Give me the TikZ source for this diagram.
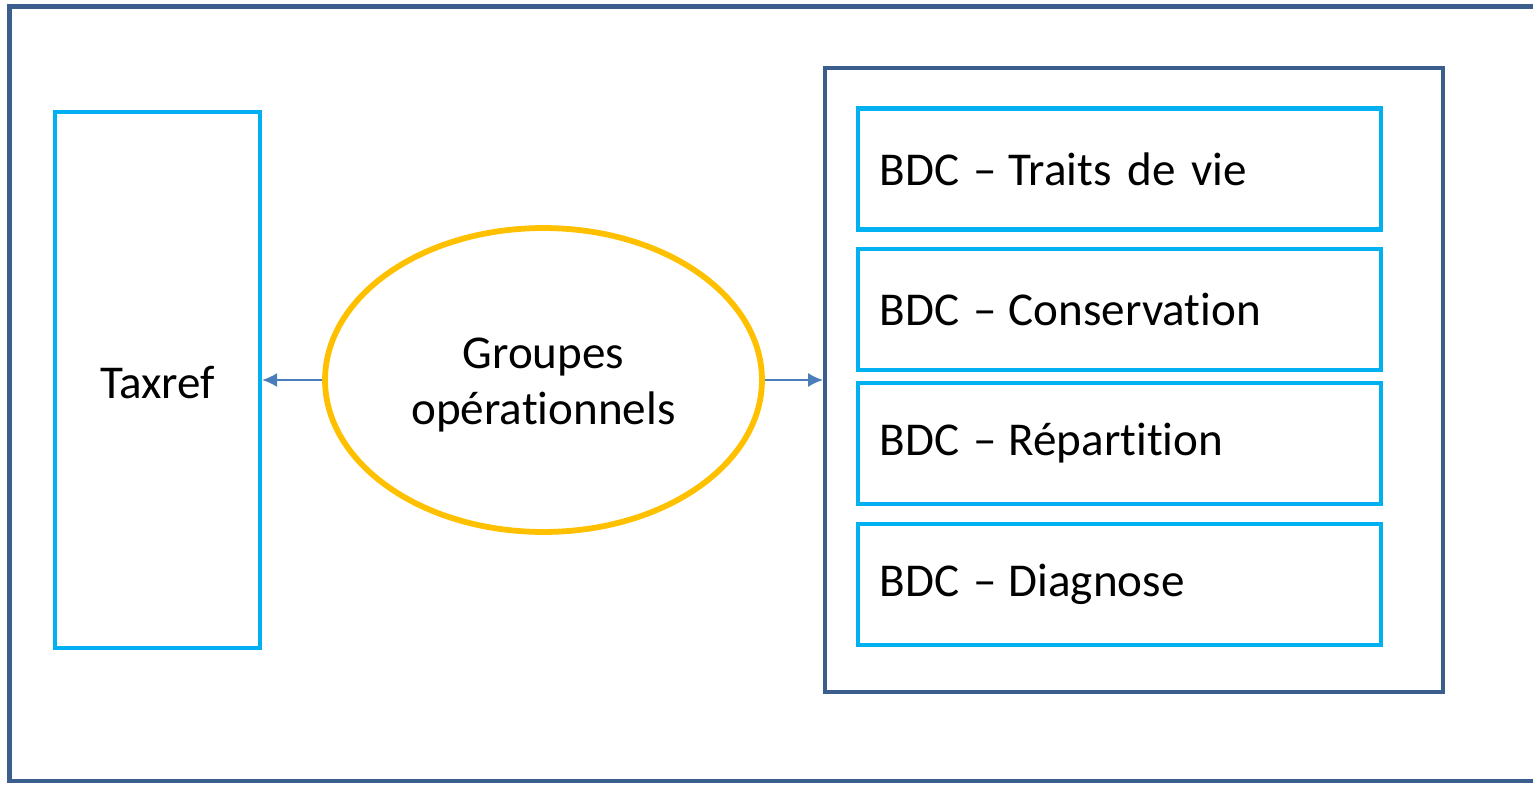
\documentclass[tikz,border=0pt]{standalone}
\usepackage{fontspec}
\setmainfont[Ligatures=NoCommon,RawFeature={-liga;-clig;-calt;-dlig}]{Carlito}
\usepackage{xcolor}
\usepackage{tikz}
\usetikzlibrary{arrows.meta,shapes.geometric,positioning}
\definecolor{frameblue}{RGB}{59,94,140}
\definecolor{boxcyan}{RGB}{0,176,240}
\definecolor{ovalgold}{RGB}{255,192,0}
\definecolor{linkblue}{RGB}{74,126,187}
\newcommand{\diagfont}{\fontsize{26.8}{32.3}\selectfont\spaceskip 0.22em\relax}
\newcommand{\bdclabel}[1]{BDC\hspace{0.28cm}--\hspace{0.24cm}#1}
\tikzset{
	every node/.append style={font=\diagfont},
	frame/.style = {
			draw=frameblue,
			line width=2.3pt,
		},
	taxbox/.style = {
			draw=boxcyan,
			line width=2.4pt,
			minimum width=4.1cm,
			minimum height=10.72cm,
		},
	bdcbox/.style = {
			draw=boxcyan,
			line width=2.4pt,
			text width=9.6cm,
			inner xsep=0.43cm,
			minimum height=2.42cm,
			align=left,
		},
	opsoval/.style = {
			ellipse,
			draw=ovalgold,
			line width=3.3pt,
			minimum width=8.74cm,
			minimum height=6.08cm,
			align=center,
		},
	link/.style = {
			draw=linkblue,
			line width=1.1pt,
			-{Latex[length=0.3cm,width=0.28cm]},
		}
}

\begin{document}
\begin{tikzpicture}[x=0.02cm,y=-0.02cm]
		\useasboundingbox (0,0) rectangle (1533,784);

		% outer frame, right side runs off the page
		\draw[frame] (1533,6.5) -- (9.5,6.5) -- (9.5,781) -- (1533,781);

		\node[taxbox] (taxref) at (157.5,380) {\rule{0pt}{21pt}Taxref};
		\node[opsoval] (groupes) at (543.5,380) {\rule{0pt}{23pt}Groupes\\op\'erationnels};
		\node[frame, minimum width=12.36cm, minimum height=12.48cm] (bdc) at (1134,380) {};

		\node[bdcbox] (traits) at (1119.5,169) {\bdclabel{Traits de vie}};
		\node[bdcbox] (conservation) at (1119.5,309.5) {\bdclabel{Conservation}};
		\node[bdcbox] (repartition) at (1119.5,443.5) {\bdclabel{R\'epartition}};
		\node[bdcbox] (diagnose) at (1119.5,584.5) {\bdclabel{Diagnose}};

		\draw[link] (groupes.west) -- (taxref.east);
		\draw[link] (groupes.east) -- (bdc.west);
	\end{tikzpicture}
\end{document}
